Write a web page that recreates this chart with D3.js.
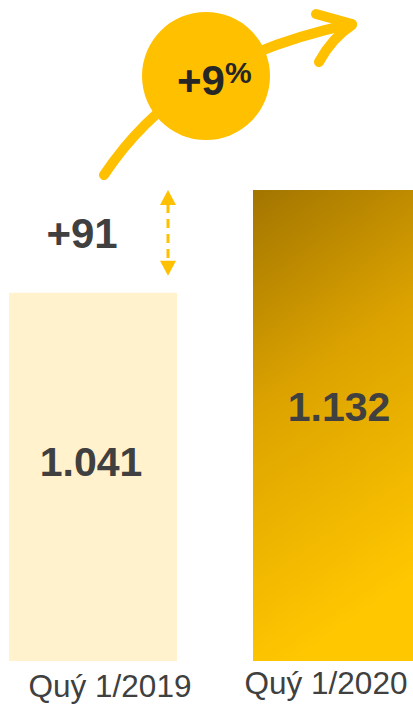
<!DOCTYPE html>
<html>
<head>
<meta charset="utf-8">
<script src="https://cdn.jsdelivr.net/npm/d3@7"></script>
<style>
  html, body { margin: 0; padding: 0; background: #fff; }
  svg { display: block; font-family: "Liberation Sans", Arial, sans-serif; }
</style>
</head>
<body>
<div id="chart"></div>
<script>
// data
const categories = ['Quý 1/2019', 'Quý 1/2020'];
const values = [1041, 1132];
const growthLabel = '+9%';

const width = 413;
const height = 704;
const baseline = 661;
const axisFloor = 715; // bars do not start at zero in the original

const fmt = d3.formatLocale({ decimal: ',', thousands: '.', grouping: [3], currency: ['', ''] }).format(',');

const svg = d3.select('#chart')
  .append('svg')
    .attr('width', width)
    .attr('height', height);

const defs = svg.append('defs');
const grad = defs.append('linearGradient')
  .attr('id', 'goldGrad')
  .attr('x1', 0).attr('y1', 0)
  .attr('x2', 0.25).attr('y2', 1);
grad.append('stop').attr('offset', '0%').attr('stop-color', '#a27500');
grad.append('stop').attr('offset', '45%').attr('stop-color', '#dca300');
grad.append('stop').attr('offset', '100%').attr('stop-color', '#ffc700');

const x = d3.scaleBand()
  .domain(categories)
  .range([9, 421])
  .paddingInner(76 / 244);

const y = d3.scaleLinear()
  .domain([axisFloor, d3.max(values)])
  .range([baseline, 190]);

const fills = ['#fff2cc', 'url(#goldGrad)'];

// bars
svg.selectAll('rect.bar')
  .data(values)
  .enter()
  .append('rect')
    .attr('class', 'bar')
    .attr('x', (d, i) => x(categories[i]))
    .attr('y', d => y(d))
    .attr('width', x.bandwidth())
    .attr('height', d => baseline - y(d))
    .style('fill', (d, i) => fills[i]);

// value labels inside bars
svg.selectAll('text.value')
  .data(values)
  .enter()
  .append('text')
    .attr('class', 'value')
    .attr('x', (d, i) => x(categories[i]) + x.bandwidth() / 2 - (i ? -2 : 2))
    .attr('y', (d, i) => (y(d) + baseline) / 2 - (i ? 5 : 1))
    .attr('text-anchor', 'middle')
    .style('font-size', '41px')
    .style('font-weight', 'bold')
    .style('fill', '#404040')
    .text(d => fmt(d));

// category labels
const labelShift = [17, -11];
const labelBase = [697, 694];
svg.selectAll('text.cat')
  .data(categories)
  .enter()
  .append('text')
    .attr('class', 'cat')
    .attr('x', (d, i) => x(d) + x.bandwidth() / 2 + labelShift[i])
    .attr('y', (d, i) => labelBase[i])
    .attr('text-anchor', 'middle')
    .style('font-size', '31.5px')
    .style('fill', '#404040')
    .text(d => d);

// difference marker
const diff = values[1] - values[0];
const ax = x(categories[0]) + x.bandwidth() - 9;
const aTop = y(values[1]);
const aBot = y(values[0]) - 17;
const gold = '#ffc000';

svg.append('line')
  .attr('x1', ax).attr('x2', ax)
  .attr('y1', aTop + 14).attr('y2', aBot - 14)
  .style('stroke', gold)
  .style('stroke-width', 3)
  .style('stroke-dasharray', '9,6');

svg.append('path')
  .attr('d', `M${ax},${aTop} L${ax + 8},${aTop + 15} L${ax - 8},${aTop + 15} Z`)
  .style('fill', gold);
svg.append('path')
  .attr('d', `M${ax},${aBot} L${ax + 8},${aBot - 15} L${ax - 8},${aBot - 15} Z`)
  .style('fill', gold);

svg.append('text')
  .attr('x', 82)
  .attr('y', 248)
  .attr('text-anchor', 'middle')
  .style('font-size', '42px')
  .style('font-weight', 'bold')
  .style('fill', '#404040')
  .text('+' + diff);

// growth arrow
const arrow = svg.append('g')
  .style('fill', 'none')
  .style('stroke', gold)
  .style('stroke-width', 10)
  .style('stroke-linecap', 'round')
  .style('stroke-linejoin', 'round');

arrow.append('path').attr('d', 'M104,175 C150,106 220,52 351,24');
arrow.append('path').attr('d', 'M316,14 L352,24');
arrow.append('path').attr('d', 'M352,25 Q332,38 319,62');

svg.append('circle')
  .attr('cx', 206)
  .attr('cy', 76)
  .attr('r', 64)
  .style('fill', gold);

const gt = svg.append('text')
  .attr('x', 177)
  .attr('y', 95)
  .style('font-weight', 'bold')
  .style('fill', '#262626');
gt.append('tspan').style('font-size', '42px').text(growthLabel.slice(0, -1));
gt.append('tspan').attr('dy', -12).style('font-size', '30px').text('%');
</script>
</body>
</html>
